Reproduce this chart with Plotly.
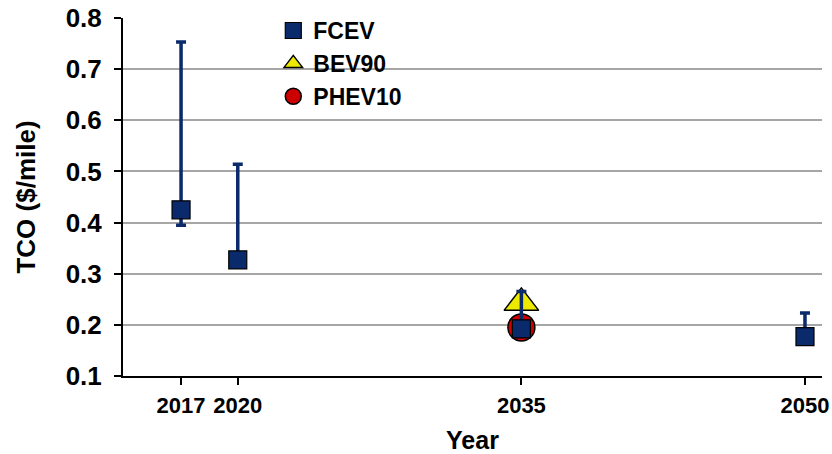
import plotly.graph_objects as go

# Total cost of ownership by model year
years_fcev = [2017, 2020, 2035, 2050]
tco_fcev = [0.425, 0.327, 0.192, 0.177]
fcev_err_up = [0.328, 0.187, 0.073, 0.046]
fcev_err_down = [0.030, 0.0, 0.0, 0.0]

years_bev = [2035]
tco_bev = [0.243]

years_phev = [2035]
tco_phev = [0.195]

x_ticks = [2017, 2020, 2035, 2050]
y_ticks = [0.1, 0.2, 0.3, 0.4, 0.5, 0.6, 0.7, 0.8]

NAVY = "#0a2a6b"
FONT = "Liberation Sans, Arial, sans-serif"

fig = go.Figure()

fig.add_trace(go.Scatter(
    x=years_bev, y=tco_bev, mode="markers", name="<b>BEV90</b>", legendrank=2,
    marker=dict(symbol="triangle-up", size=30, color="#ecea00",
                line=dict(color="black", width=1.5)),
))
fig.add_trace(go.Scatter(
    x=years_phev, y=tco_phev, mode="markers", name="<b>PHEV10</b>", legendrank=3,
    marker=dict(symbol="circle", size=27, color="#cc0000",
                line=dict(color="black", width=1.5)),
))
fig.add_trace(go.Scatter(
    x=years_fcev, y=tco_fcev, mode="markers", name="<b>FCEV</b>", legendrank=1,
    marker=dict(symbol="square", size=18, color=NAVY,
                line=dict(color="black", width=1.2)),
    error_y=dict(type="data", symmetric=False, array=fcev_err_up,
                 arrayminus=fcev_err_down, color=NAVY, thickness=3.5, width=5),
))

fig.update_layout(
    width=832, height=454,
    margin=dict(l=123, r=10, t=18, b=78, autoexpand=False),
    paper_bgcolor="white", plot_bgcolor="white",
    font=dict(family=FONT, color="black"),
    showlegend=True,
    legend=dict(x=0.215, y=1.025, xanchor="left", yanchor="top",
                bgcolor="rgba(0,0,0,0)", font=dict(size=23, family=FONT),
                tracegroupgap=0, itemsizing="trace"),
)

fig.update_xaxes(
    range=[2013.93, 2050.9], tickmode="array", tickvals=x_ticks,
    ticktext=[f"<b>{v}</b>" for v in x_ticks],
    showgrid=False, zeroline=False, automargin=False,
    showline=True, linecolor="black", linewidth=2,
    ticks="outside", ticklen=7, tickwidth=1.5, tickcolor="black",
    tickfont=dict(size=22, family=FONT), ticklabelstandoff=2,
    title=dict(text="<b>Year</b>", font=dict(size=25, family=FONT), standoff=19),
)
fig.update_yaxes(
    range=[0.1, 0.8], tickmode="array", tickvals=y_ticks,
    ticktext=[f"<b>{v:.1f}</b>" for v in y_ticks],
    showgrid=True, gridcolor="#a6a6a6", gridwidth=1.5, zeroline=False,
    automargin=False,
    showline=True, linecolor="black", linewidth=2,
    ticks="outside", ticklen=7, tickwidth=1.5, tickcolor="black",
    tickfont=dict(size=26, family=FONT), ticklabelstandoff=7,
    title=dict(text="<b>TCO ($/mile)</b>", font=dict(size=26, family=FONT), standoff=23),
)

fig.write_html("out.html")
